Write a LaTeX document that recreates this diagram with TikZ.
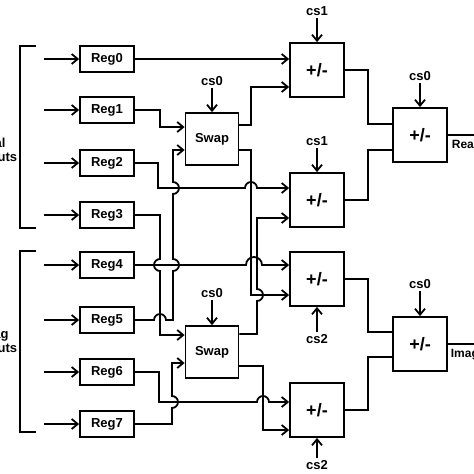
\documentclass[tikz,border=0pt]{standalone}
\usepackage{fontspec}
\setmainfont{Liberation Sans}
\usetikzlibrary{arrows.meta}

\begin{document}
\begin{tikzpicture}[
		x=1pt,y=-1pt,
		line width=1.8pt,
		font=\fontsize{13}{14}\selectfont\bfseries,
		inp/.style = {-{Straight Barb[length=6pt,width=10pt]}},
		reg/.style = {draw, minimum width=54pt, minimum height=26pt},
		swapbox/.style = {draw, minimum width=53pt, minimum height=52pt},
		addsub/.style = {draw, minimum width=54pt, minimum height=54pt, font=\fontsize{18}{20}\selectfont\bfseries},
		ctrl/.style = {inner sep=1.5pt},
		lbl/.style = {inner sep=0pt}
	]
	\useasboundingbox (0,0) rectangle (474,474);

	\node (reg0) [reg] at (107,59) {Reg0};
	\node (reg1) [reg] at (107,110) {Reg1};
	\node (reg2) [reg] at (107,163) {Reg2};
	\node (reg3) [reg] at (107,215) {Reg3};
	\node (reg4) [reg] at (107,265) {Reg4};
	\node (reg5) [reg] at (107,320) {Reg5};
	\node (reg6) [reg] at (107,372) {Reg6};
	\node (reg7) [reg] at (107,424) {Reg7};
	\node (swap0) [swapbox] at (212,139) {Swap};
	\node (swap1) [swapbox] at (212,352) {Swap};
	\node (add0) [addsub] at (317,70) {+/-};
	\node (add1) [addsub] at (317,200) {+/-};
	\node (add2) [addsub] at (317,279) {+/-};
	\node (add3) [addsub] at (317,410) {+/-};
	\node (addre) [addsub] at (420,135) {+/-};
	\node (addim) [addsub] at (420,344) {+/-};

	\node (cs1a) [ctrl] at (317,11) {cs1};
	\node (cs1b) [ctrl] at (317,141) {cs1};
	\node (cs0a) [ctrl] at (212,81) {cs0};
	\node (cs0b) [ctrl] at (212,293) {cs0};
	\node (cs0c) [ctrl] at (420,76) {cs0};
	\node (cs0d) [ctrl] at (420,284) {cs0};
	\node (cs2a) [ctrl] at (317,339) {cs2};
	\node (cs2b) [ctrl] at (317,465) {cs2};

	\node (realin) [lbl, align=left, anchor=east] at (18,151) {Real\\Inputs};
	\node (imagin) [lbl, align=left, anchor=east] at (18,342) {Imag\\Inputs};
	\node (realout) [lbl, anchor=base west, font=\fontsize{12}{14}\selectfont\bfseries] at (451,148) {Real};
	\node (imagout) [lbl, anchor=base west, font=\fontsize{12}{14}\selectfont\bfseries] at (450,357) {Imag};

	% input brackets
	\draw (36,46) -- (20,46) -- (20,228) -- (36,228);
	\draw (36,251) -- (20,251) -- (20,432) -- (36,432);

	\coordinate (in0) at (44,59);
	\coordinate (in1) at (44,110);
	\coordinate (in2) at (44,163);
	\coordinate (in3) at (44,215);
	\coordinate (in4) at (44,265);
	\coordinate (in5) at (44,320);
	\coordinate (in6) at (44,372);
	\coordinate (in7) at (44,424);
	\coordinate (outre) at (474,135);
	\coordinate (outim) at (474,344);

	\path [inp] (in0) edge (reg0);
	\path [inp] (in1) edge (reg1);
	\path [inp] (in2) edge (reg2);
	\path [inp] (in3) edge (reg3);
	\path [inp] (in4) edge (reg4);
	\path [inp] (in5) edge (reg5);
	\path [inp] (in6) edge (reg6);
	\path [inp] (in7) edge (reg7);

	\path [inp] (cs1a) edge (add0);
	\path [inp] (cs1b) edge (add1);
	\path [inp] (cs0a) edge (swap0);
	\path [inp] (cs0b) edge (swap1);
	\path [inp] (cs0c) edge (addre);
	\path [inp] (cs0d) edge (addim);
	\path [inp] (cs2a) edge (add2);
	\path [inp] (cs2b) edge (add3);

	% registers to swaps and adders
	\draw [inp] (reg0.east) -- (add0.west |- 0,59);
	\draw [inp] (reg1.east) -| (160,127) -- (swap0.west |- 0,127);
	\draw [inp] (reg2.east) -| (158,188) -- (245,188) arc[start angle=180, end angle=0, radius=6pt] -- (add1.west |- 0,188);
	\draw [inp] (reg3.east) -| (160,259) arc[start angle=90, end angle=270, radius=6pt] |- (swap1.west |- 0,335);
	\draw [inp] (reg4.east) -- (246,265) arc[start angle=180, end angle=0, radius=8pt] -- (add2.west |- 0,265);
	\draw [inp] (reg5.east) -- (154,320) arc[start angle=180, end angle=0, radius=6pt] -- (173,320) -- (173,271) arc[start angle=-90, end angle=90, radius=6pt] -- (173,194) arc[start angle=-90, end angle=90, radius=6pt] |- (swap0.west |- 0,150);
	\draw [inp] (reg6.east) -| (159,402) -- (257,402) arc[start angle=180, end angle=0, radius=6pt] -- (add3.west |- 0,402);
	\draw [inp] (reg7.east) -| (172,408) arc[start angle=-90, end angle=90, radius=6pt] |- (swap1.west |- 0,363);

	% swaps to adders
	\draw [inp] (swap0.east |- 0,125) -| (251,87) -- (add0.west |- 0,87);
	\draw [inp] (swap0.east |- 0,150) -| (251,295) -- (add2.west |- 0,295);
	\draw [inp] (swap1.east |- 0,334) -| (257,301) arc[start angle=-90, end angle=90, radius=6pt] |- (add1.west |- 0,218);
	\draw [inp] (swap1.east |- 0,366) -| (263,430) -- (add3.west |- 0,430);

	\draw (add0.east) -| (368,124) -- (addre.west |- 0,124);
	\draw (add1.east) -| (368,150) -- (addre.west |- 0,150);
	\draw (add2.east) -| (368,332) -- (addim.west |- 0,332);
	\draw (add3.east) -| (368,357) -- (addim.west |- 0,357);
	\draw (addre.east) -- (outre);
	\draw (addim.east) -- (outim);
\end{tikzpicture}
\end{document}
